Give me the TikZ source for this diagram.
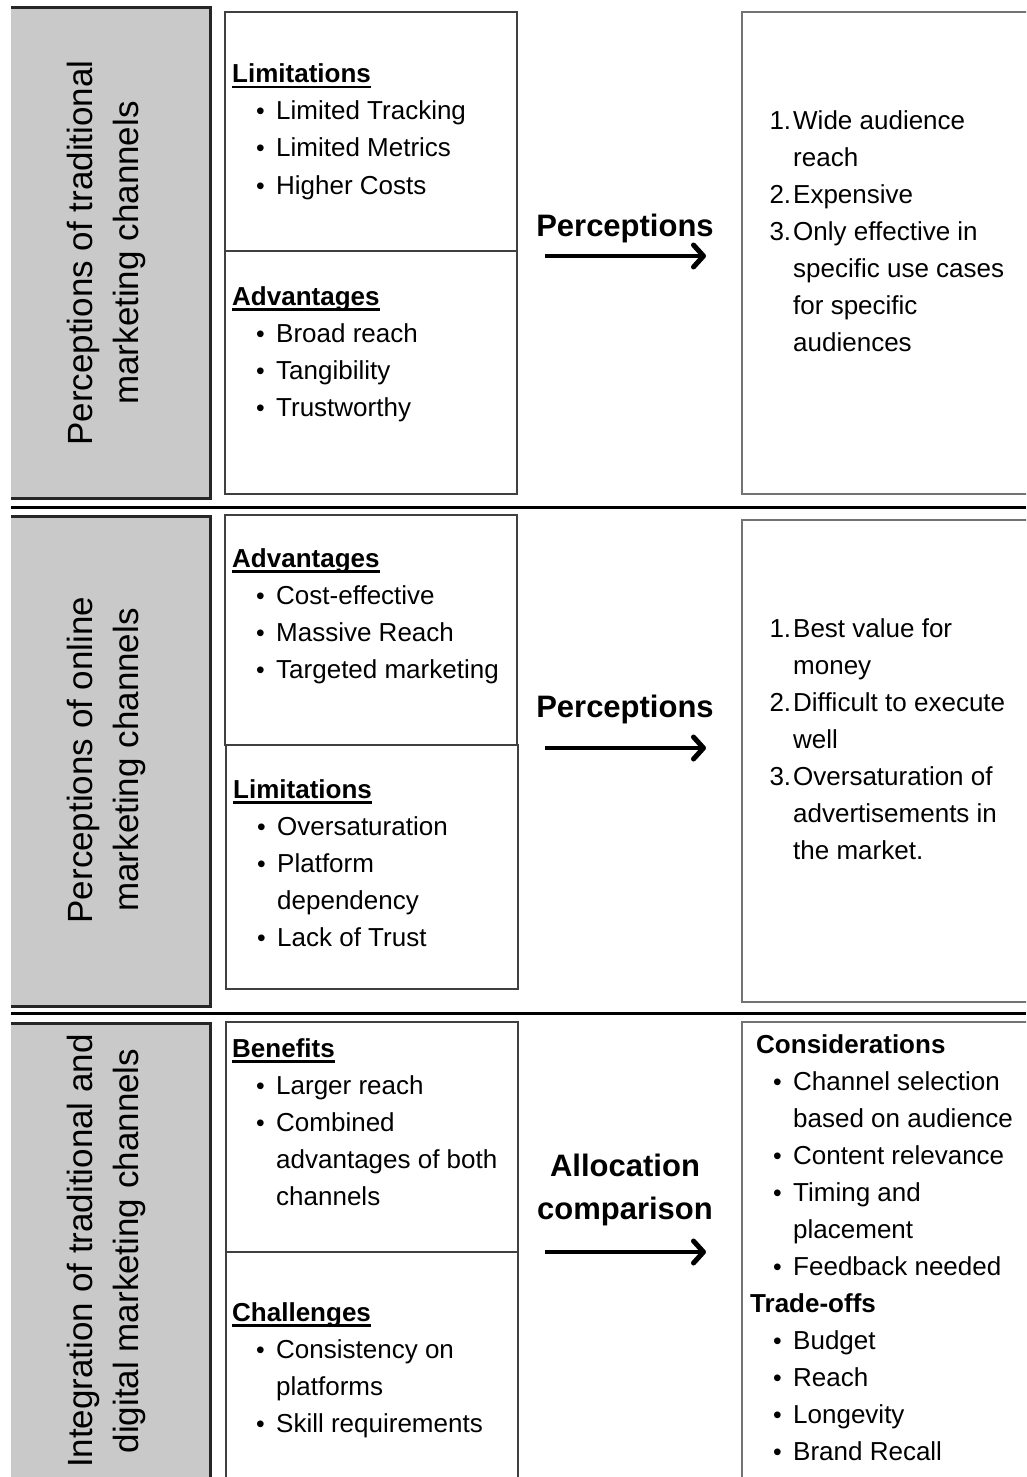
\documentclass[tikz,border=0pt]{standalone}
\usepackage{fontspec}
\setmainfont{Liberation Sans}
\usetikzlibrary{arrows.meta}
\newcommand{\bul}{\llap{\scalebox{0.95}{\textbullet}\hspace{11.5pt}}}
\newcommand{\num}[1]{\llap{#1.\hspace{2pt}}}
\newcommand{\uhead}[1]{\setbox0\hbox{#1}\rlap{\rule[-5.5pt]{\wd0}{2.5pt}}\box0}
\tikzset{
  side/.style={rotate=90, align=center, inner sep=0pt, font=\fontsize{35pt}{46pt}\selectfont},
  head/.style={anchor=base west, inner sep=0pt, font=\fontsize{26pt}{37pt}\selectfont\bfseries},
  entry/.style={anchor=base west, inner sep=0pt, font=\fontsize{26pt}{37pt}\selectfont},
  title/.style={align=center, inner sep=0pt, font=\fontsize{31pt}{43pt}\selectfont\bfseries},
  graybox/.style={fill=black!21},
  grayedge/.style={line width=3pt, draw=black!85},
  frame/.style={draw=black!75, line width=1.5pt},
  rframe/.style={draw=black!55, line width=2pt},
  sepline/.style={line width=3pt},
  bigarrow/.style={-{Straight Barb[length=10pt,width=22pt,line width=5pt,round]}, line width=4pt}
}
\begin{document}
\begin{tikzpicture}[x=1pt, y=-1pt]
  \useasboundingbox (0,0) rectangle (1026,1477);
  \clip (0,0) rectangle (1026,1477);
  \fill[graybox] (11,8) rectangle (210,498);
  \draw[grayedge] (11,8) -- (210,8) -- (210,498) -- (11,498);
  \fill[graybox] (11,516) rectangle (210,1006);
  \draw[grayedge] (11,516) -- (210,516) -- (210,1006) -- (11,1006);
  \fill[graybox] (11,1023) rectangle (210,1490);
  \draw[grayedge] (11,1023) -- (210,1023) -- (210,1490);
  \draw[sepline] (11,507) -- (1026,507);
  \draw[sepline] (11,1013) -- (1026,1013);
  \draw[frame] (225,12) rectangle (517,494);
  \draw[frame] (225,251) -- (517,251);
  \draw[frame] (225,515) rectangle (517,745);
  \draw[frame] (226,745) rectangle (518,989);
  \draw[frame] (226,1022) rectangle (518,1490);
  \draw[frame] (226,1252) -- (518,1252);
  \draw[rframe] (742,12) rectangle (1040,494);
  \draw[rframe] (742,520) rectangle (1040,1002);
  \draw[rframe] (742,1022) rectangle (1040,1490);

  \node[side] (trad-side) at (106,253) {Perceptions of traditional\\marketing channels};
  \node[side] (onl-side) at (106,760) {Perceptions of online\\marketing channels};
  \node[side] (int-side) at (106,1251) {Integration of traditional and\\digital marketing channels};

  \node[head] (trad-lim) at (232,83) {\uhead{Limitations}};
  \foreach \t [count=\i] in {\bul Limited Tracking, \bul Limited Metrics, \bul Higher Costs}
    \node[entry] (trad-lim-\i) at (276,{83+37*\i}) {\t};
  \node[head] (trad-adv) at (232,305) {\uhead{Advantages}};
  \foreach \t [count=\i] in {\bul Broad reach, \bul Tangibility, \bul Trustworthy}
    \node[entry] (trad-adv-\i) at (276,{305+37*\i}) {\t};
  \node[title, anchor=base] (trad-per) at (625,236) {Perceptions};
  \coordinate (trad-from) at (545,256);
  \coordinate (trad-to) at (706,256);
  \draw[bigarrow] (trad-from) -- (trad-to);
  \foreach \t [count=\i] in {\num{1}Wide audience, reach, \num{2}Expensive, \num{3}Only effective in,
      specific use cases, for specific, audiences}
    \node[entry] (trad-out-\i) at (793,{92+37*\i}) {\t};

  \node[head] (onl-adv) at (232,567) {\uhead{Advantages}};
  \foreach \t [count=\i] in {\bul Cost-effective, \bul Massive Reach, \bul Targeted marketing}
    \node[entry] (onl-adv-\i) at (276,{567+37*\i}) {\t};
  \node[head] (onl-lim) at (233,798) {\uhead{Limitations}};
  \foreach \t [count=\i] in {\bul Oversaturation, \bul Platform, dependency, \bul Lack of Trust}
    \node[entry] (onl-lim-\i) at (277,{798+37*\i}) {\t};
  \node[title, anchor=base] (onl-per) at (625,717) {Perceptions};
  \coordinate (onl-from) at (545,748);
  \coordinate (onl-to) at (706,748);
  \draw[bigarrow] (onl-from) -- (onl-to);
  \foreach \t [count=\i] in {\num{1}Best value for, money, \num{2}Difficult to execute, well,
      \num{3}Oversaturation of, advertisements in, the market.}
    \node[entry] (onl-out-\i) at (793,{600+37*\i}) {\t};

  \node[head] (int-ben) at (232,1057) {\uhead{Benefits}};
  \foreach \t [count=\i] in {\bul Larger reach, \bul Combined, advantages of both, channels}
    \node[entry] (int-ben-\i) at (276,{1057+37*\i}) {\t};
  \node[head] (int-cha) at (232,1321) {\uhead{Challenges}};
  \foreach \t [count=\i] in {\bul Consistency on, platforms, \bul Skill requirements}
    \node[entry] (int-cha-\i) at (276,{1321+37*\i}) {\t};
  \node[title] (int-alloc) at (625,1190) {Allocation\\comparison};
  \coordinate (int-from) at (545,1252);
  \coordinate (int-to) at (706,1252);
  \draw[bigarrow] (int-from) -- (int-to);
  \node[head] (int-con) at (756,1053) {Considerations};
  \foreach \t [count=\i] in {\bul Channel selection, based on audience, \bul Content relevance,
      \bul Timing and, placement, \bul Feedback needed}
    \node[entry] (int-con-\i) at (793,{1053+37*\i}) {\t};
  \node[head] (int-trade) at (750,1312) {Trade-offs};
  \foreach \t [count=\i] in {\bul Budget, \bul Reach, \bul Longevity, \bul Brand Recall}
    \node[entry] (int-trade-\i) at (793,{1312+37*\i}) {\t};
\end{tikzpicture}
\end{document}
